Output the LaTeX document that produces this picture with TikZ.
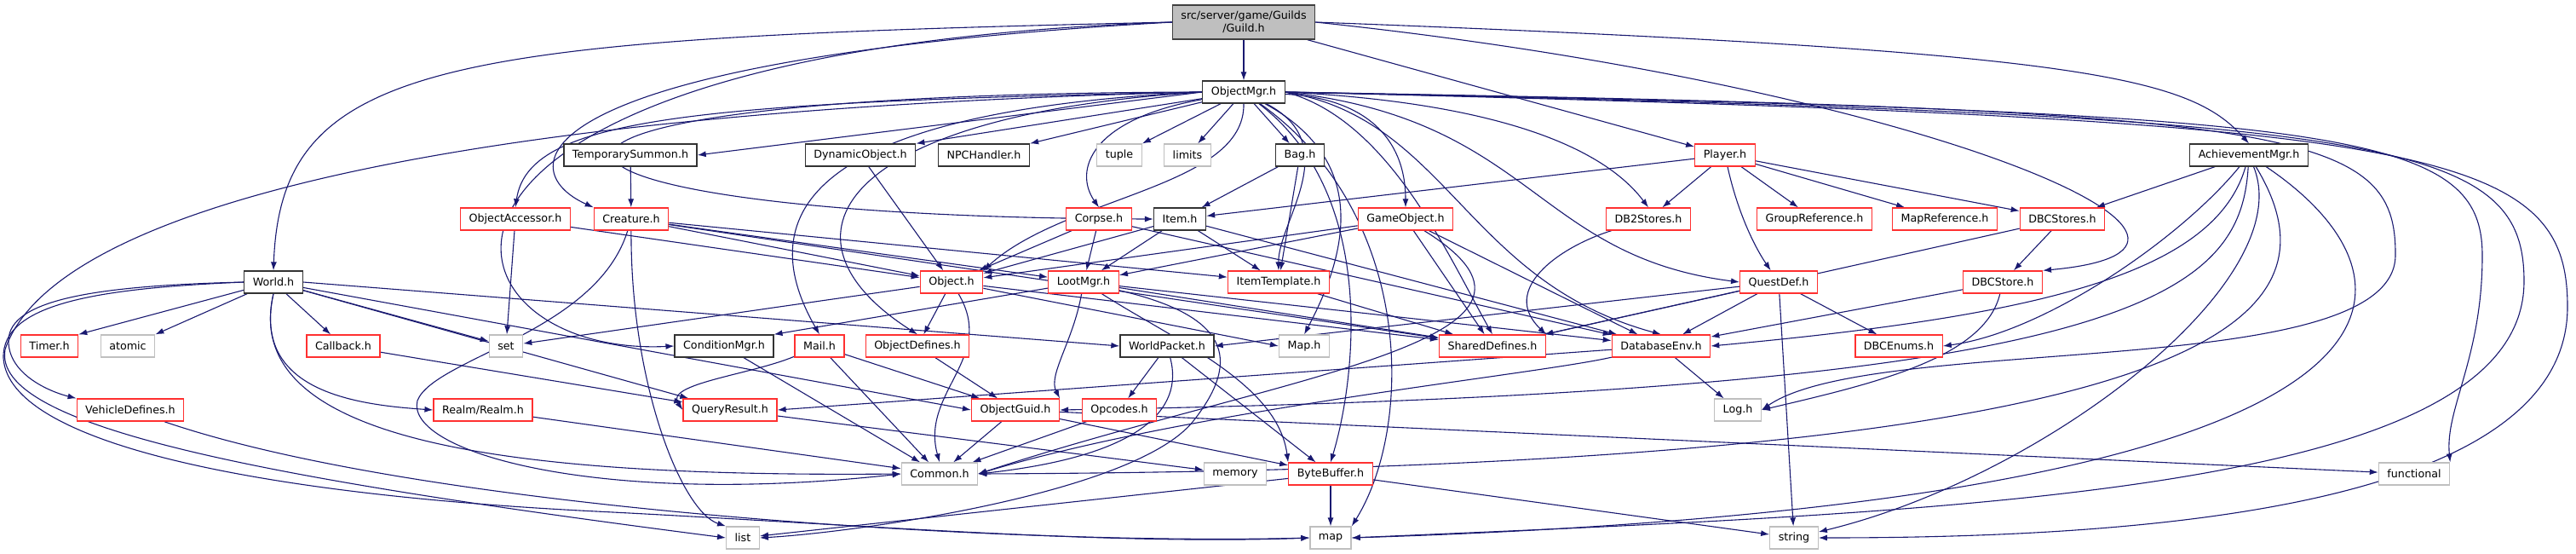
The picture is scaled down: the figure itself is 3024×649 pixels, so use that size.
\documentclass[tikz,border=0pt]{standalone}
\usepackage{fontspec}
\setmainfont{DejaVu Sans}
\usetikzlibrary{arrows.meta,backgrounds}
\definecolor{edgeblue}{HTML}{191970}
\definecolor{sysgray}{HTML}{BFBFBF}
\definecolor{rootgray}{HTML}{BFBFBF}
\definecolor{cutred}{HTML}{FF3030}

\begin{document}
\begin{tikzpicture}[x=1pt, y=-1pt,
	hdr/.style={draw=black!80, fill=white, line width=1.3pt, inner xsep=10pt, inner ysep=0pt,
		minimum height=26pt, font=\fontsize{12.7}{15}\selectfont},
	cut/.style={hdr, draw=cutred},
	sys/.style={hdr, draw=sysgray},
	rootbox/.style={hdr, fill=rootgray, draw=black!75, align=center, minimum height=40pt},
	inc/.style={draw=edgeblue, line width=1.1pt, -{Latex[length=10pt,width=7pt]}}]
		%%%%% START %%%%%
		\useasboundingbox (0,0) rectangle (3024,649);
		
		\node[rootbox] (guild) at (1460,26) {src/server/game/Guilds\\/Guild.h};
		\node[hdr] (omgr) at (1460,108) {ObjectMgr.h};
		
		\node[hdr] (tsum) at (740,182) {TemporarySummon.h};
		\node[hdr] (dynobj) at (1010,182) {DynamicObject.h};
		\node[hdr] (npch) at (1155,182) {NPCHandler.h};
		\node[sys] (tuple) at (1314,182) {tuple};
		\node[sys] (limits) at (1394,182) {limits};
		\node[hdr] (bag) at (1526,182) {Bag.h};
		\node[cut] (player) at (2025,182) {Player.h};
		\node[hdr] (achv) at (2640,182) {AchievementMgr.h};
		
		\node[cut] (oacc) at (605,257) {ObjectAccessor.h};
		\node[cut] (creat) at (741,257) {Creature.h};
		\node[cut] (corpse) at (1290,257) {Corpse.h};
		\node[hdr] (item) at (1385,257) {Item.h};
		\node[cut] (gobj) at (1650,257) {GameObject.h};
		\node[cut] (db2) at (1935,257) {DB2Stores.h};
		\node[cut] (grpref) at (2130,257) {GroupReference.h};
		\node[cut] (mapref) at (2283,257) {MapReference.h};
		\node[cut] (dbcstores) at (2421,257) {DBCStores.h};
		
		\node[hdr] (world) at (321,331) {World.h};
		\node[cut] (object) at (1117,331) {Object.h};
		\node[cut] (loot) at (1272,331) {LootMgr.h};
		\node[cut] (itemtpl) at (1501,331) {ItemTemplate.h};
		\node[cut] (quest) at (2088,331) {QuestDef.h};
		\node[cut] (dbcstore) at (2351,331) {DBCStore.h};
		
		\node[cut] (timer) at (58,406) {Timer.h};
		\node[sys] (atomic) at (150,406) {atomic};
		\node[cut] (callback) at (403,406) {Callback.h};
		\node[sys] (set) at (594,406) {set};
		\node[hdr] (condmgr) at (850,406) {ConditionMgr.h};
		\node[cut] (mail) at (962,406) {Mail.h};
		\node[cut] (objdef) at (1077,406) {ObjectDefines.h};
		\node[hdr] (wpkt) at (1370,406) {WorldPacket.h};
		\node[sys] (maph) at (1531,406) {Map.h};
		\node[cut] (shdef) at (1752,406) {SharedDefines.h};
		\node[cut] (dbenv) at (1950,406) {DatabaseEnv.h};
		\node[cut] (dbcenums) at (2229,406) {DBCEnums.h};
		
		\node[cut] (vehdef) at (153,481) {VehicleDefines.h};
		\node[cut] (realm) at (567,481) {Realm/Realm.h};
		\node[cut] (qres) at (857,481) {QueryResult.h};
		\node[cut] (oguid) at (1192,481) {ObjectGuid.h};
		\node[cut] (opcodes) at (1314,481) {Opcodes.h};
		\node[sys] (log) at (2040,481) {Log.h};
		
		\node[sys] (common) at (1103,556) {Common.h};
		\node[sys] (memory) at (1450,556) {memory};
		\node[cut] (bytebuf) at (1562,556) {ByteBuffer.h};
		\node[sys] (functional) at (2834,556) {functional};
		
		\node[sys] (list) at (872,631) {list};
		\node[sys] (map) at (1562,631) {map};
		\node[sys] (string) at (2106,631) {string};
		
		\begin{pgfonlayer}{background}
		% Guild.h
		\draw[inc] (guild) -- (omgr);
		\draw[inc] (guild.west) .. controls (520,45) and (330,70) .. (world.north);
		\draw[inc] (guild) -- (player);
		\draw[inc] (guild.east) .. controls (2450,60) and (2570,90) .. (achv.north);
		\draw[inc] (guild.east) .. controls (2250,100) and (2700,290) .. (dbcstore.north east);
		\draw[inc] (guild.west) .. controls (400,60) and (500,420) .. (condmgr.west);
		\draw[inc] (guild.west) .. controls (600,70) and (600,200) .. (creat.north west);
		
		% ObjectMgr.h
		\draw[inc] (omgr.west) -- (tsum.east);
		\draw[inc] (omgr) -- (dynobj.north east);
		\draw[inc] (omgr) -- (npch.north east);
		\draw[inc] (omgr) -- (tuple);
		\draw[inc] (omgr) -- (limits);
		\draw[inc] (omgr) -- (bag);
		\draw[inc] (omgr) .. controls (1280,140) and (1260,200) .. (corpse.north);
		\draw[inc] (omgr.south) .. controls (1462,220) and (1250,230) .. (object.north east);
		\draw[inc] (omgr.west) .. controls (800,120) and (620,140) .. (oacc.north);
		\draw[inc] (omgr.west) .. controls (450,110) and (550,255) .. (item.west);
		\draw[inc] (omgr.west) .. controls (500,130) and (60,250) .. (6,410) .. controls (-10,500) and (300,560) .. (list.west);
		\draw[inc] (omgr.west) .. controls (950,130) and (880,250) .. (mail.north);
		\draw[inc] (omgr.west) .. controls (980,135) and (900,280) .. (objdef.north);
		\draw[inc] (omgr) .. controls (1600,115) and (1650,160) .. (gobj.north);
		\draw[inc] (omgr.east) .. controls (1750,120) and (1880,170) .. (db2.north);
		\draw[inc] (omgr.east) .. controls (1800,140) and (1800,300) .. (quest.west);
		\draw[inc] (omgr.east) .. controls (1700,140) and (1720,330) .. (dbenv.north);
		\draw[inc] (omgr.east) .. controls (1630,140) and (1700,300) .. (shdef.north);
		\draw[inc] (omgr) .. controls (1580,170) and (1500,260) .. (itemtpl.north);
		\draw[inc] (omgr) .. controls (1610,190) and (1580,300) .. (maph.north);
		\draw[inc] (omgr) .. controls (1620,230) and (1590,450) .. (bytebuf.north);
		\draw[inc] (omgr) .. controls (1660,250) and (1660,500) .. (map.north east);
		\draw[inc] (omgr.east) .. controls (2700,128) and (2813,150) .. (2812,300) .. controls (2810,450) and (2200,390) .. (log.east);
		\draw[inc] (omgr.east) .. controls (2750,132) and (2914,150) .. (2914,300) .. controls (2914,420) and (2870,480) .. (functional.north east);
		\draw[inc] (omgr.east) .. controls (2800,136) and (2963,160) .. (2963,330) .. controls (2963,580) and (2300,600) .. (map.east);
		\draw[inc] (omgr.east) .. controls (2850,140) and (3014,170) .. (3014,360) .. controls (3014,600) and (2500,631) .. (string.east);
		
		% World.h
		\draw[inc] (world) -- (timer.north east);
		\draw[inc] (world) -- (atomic.north east);
		\draw[inc] (world) -- (callback);
		\draw[inc] (world) -- (set);
		\draw[inc] (world.west) .. controls (120,335) and (10,350) .. (10,400) .. controls (10,440) and (60,460) .. (vehdef.north west);
		\draw[inc] (world.west) .. controls (120,338) and (2,355) .. (4,420) .. controls (10,520) and (300,580) .. (700,600) .. controls (1000,615) and (1300,640) .. (map.west);
		\draw[inc] (world.south) .. controls (295,460) and (420,475) .. (realm.west);
		\draw[inc] (world.south) .. controls (280,520) and (600,560) .. (common.west);
		\draw[inc] (world.east) -- (wpkt.west);
		\draw[inc] (world) -- (qres);
		\draw[inc] (world) -- (oguid.west);
		
		\draw[inc] (callback) -- (qres);
		\draw[inc] (oacc) -- (set);
		\draw[inc] (oacc) -- (object);
		\draw[inc] (tsum) -- (creat);
		\draw[inc] (creat) -- (object);
		\draw[inc] (creat) -- (loot);
		\draw[inc] (creat) -- (itemtpl);
		\draw[inc] (creat) -- (shdef);
		\draw[inc] (creat) .. controls (700,390) and (510,420) .. (490,470) .. controls (475,530) and (700,595) .. (common.west);
		\draw[inc] (creat) .. controls (740,450) and (800,600) .. (list.north west);
		\draw[inc] (dynobj) -- (object);
		\draw[inc] (bag) -- (item);
		\draw[inc] (bag) -- (itemtpl);
		\draw[inc] (corpse) -- (object);
		\draw[inc] (corpse) -- (loot);
		\draw[inc] (corpse) -- (dbenv);
		\draw[inc] (item) -- (object);
		\draw[inc] (item) -- (loot);
		\draw[inc] (item) -- (itemtpl);
		\draw[inc] (item) -- (dbenv);
		
		% Player.h
		\draw[inc] (player) -- (item);
		\draw[inc] (player) -- (db2);
		\draw[inc] (player) -- (grpref);
		\draw[inc] (player) -- (mapref);
		\draw[inc] (player) -- (dbcstores);
		\draw[inc] (player) .. controls (2040,250) and (2060,290) .. (quest);
		
		\draw[inc] (gobj) -- (object);
		\draw[inc] (gobj) -- (loot);
		\draw[inc] (gobj) -- (shdef);
		\draw[inc] (gobj) -- (dbenv);
		\draw[inc] (gobj) .. controls (1880,400) and (1500,440) .. (common.east);
		\draw[inc] (db2) .. controls (1830,290) and (1760,340) .. (shdef.north east);
		\draw[inc] (quest) -- (wpkt.east);
		\draw[inc] (quest) -- (shdef);
		\draw[inc] (quest) -- (dbenv);
		\draw[inc] (quest) -- (dbcenums);
		\draw[inc] (quest) -- (string);
		\draw[inc] (dbcstores) -- (dbcstore);
		\draw[inc] (dbcstores) -- (shdef);
		\draw[inc] (dbcstore) -- (dbenv);
		\draw[inc] (dbcstore) .. controls (2330,420) and (2200,450) .. (log.east);
		
		% AchievementMgr.h
		\draw[inc] (achv) -- (dbcstores);
		\draw[inc] (achv) .. controls (2560,280) and (2400,390) .. (dbcenums.east);
		\draw[inc] (achv) .. controls (2600,320) and (2400,370) .. (dbenv.east);
		\draw[inc] (achv) .. controls (2630,350) and (2500,460) .. (oguid.east);
		\draw[inc] (achv) .. controls (2760,380) and (2600,550) .. (common.east);
		\draw[inc] (achv) .. controls (2860,330) and (2900,590) .. (map.east);
		\draw[inc] (achv) .. controls (2700,330) and (2400,560) .. (string);
		
		% Object.h, LootMgr.h
		\draw[inc] (object) -- (objdef);
		\draw[inc] (object) .. controls (1170,420) and (1080,460) .. (common.north);
		\draw[inc] (object) -- (set);
		\draw[inc] (object) -- (shdef);
		\draw[inc] (object) -- (maph.west);
		\draw[inc] (loot) -- (condmgr.north east);
		\draw[inc] (loot) .. controls (1260,400) and (1230,440) .. (oguid.north east);
		\draw[inc] (loot) -- (shdef);
		\draw[inc] (loot) -- (dbenv);
		\draw[inc] (loot) .. controls (1440,370) and (1460,420) .. (1400,495) .. controls (1330,580) and (1000,625) .. (list.east);
		\draw[inc] (loot) .. controls (1380,400) and (1500,450) .. (bytebuf.north west);
		\draw[inc] (itemtpl) -- (shdef);
		
		\draw[inc] (condmgr) -- (common);
		\draw[inc] (mail) .. controls (880,440) and (780,450) .. (qres.west);
		\draw[inc] (mail) -- (common);
		\draw[inc] (mail) -- (oguid);
		\draw[inc] (objdef) -- (oguid);
		\draw[inc] (wpkt) -- (opcodes);
		\draw[inc] (wpkt) .. controls (1390,480) and (1340,535) .. (common.east);
		\draw[inc] (wpkt) -- (bytebuf);
		\draw[inc] (dbenv) -- (log);
		\draw[inc] (dbenv) -- (qres.east);
		\draw[inc] (dbenv) .. controls (1800,440) and (1400,480) .. (common.east);
		\draw[inc] (qres) -- (memory);
		\draw[inc] (oguid) -- (common);
		\draw[inc] (oguid) -- (bytebuf);
		\draw[inc] (oguid) -- (functional);
		\draw[inc] (opcodes) -- (common);
		\draw[inc] (realm) -- (common);
		\draw[inc] (vehdef) .. controls (500,600) and (1200,640) .. (map.west);
		\draw[inc] (bytebuf) -- (map);
		\draw[inc] (bytebuf) -- (list);
		\draw[inc] (bytebuf) -- (string);
		\end{pgfonlayer}
		
		%%%%% END %%%%%
	\end{tikzpicture}
\end{document}
